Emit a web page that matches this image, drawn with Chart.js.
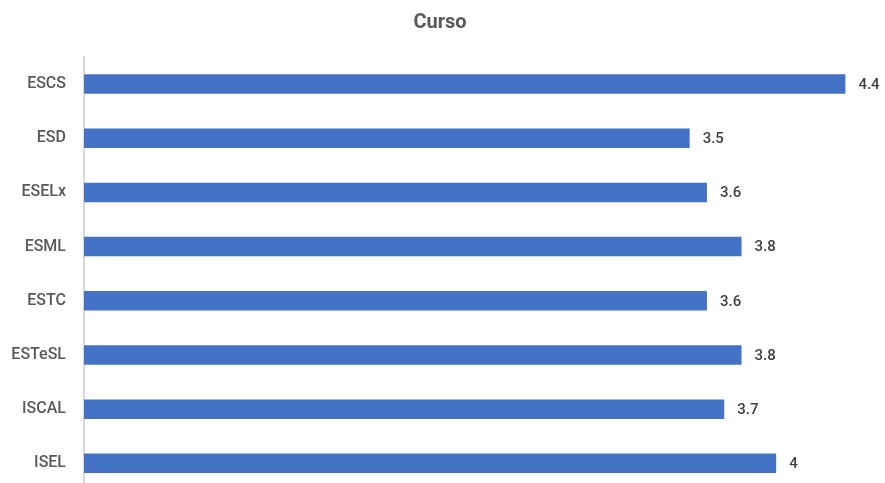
<!DOCTYPE html>
<html>
<head>
<meta charset="utf-8">
<script src="https://cdn.jsdelivr.net/npm/chart.js@4/dist/chart.umd.min.js"></script>
<style>
  html, body { margin: 0; padding: 0; background: #fff; overflow: hidden; }
  #wrap { width: 885px; height: 510px; }
</style>
</head>
<body>
<div id="wrap"><canvas id="chart" width="885" height="510"></canvas></div>
<script>
// data
var categories = ['ESCS', 'ESD', 'ESELx', 'ESML', 'ESTC', 'ESTeSL', 'ISCAL', 'ISEL'];
var values = [4.4, 3.5, 3.6, 3.8, 3.6, 3.8, 3.7, 4];
var chartTitle = 'Curso';

var FONT = 'Roboto, "DejaVu Sans Condensed", sans-serif';

// value labels at the end of each bar
var valueLabels = {
	id: 'valueLabels',
	afterDatasetsDraw: function(chart) {
		var ctx = chart.ctx;
		var meta = chart.getDatasetMeta(0);
		ctx.save();
		ctx.font = '500 15px ' + FONT;
		ctx.fillStyle = '#404040';
		ctx.textAlign = 'left';
		ctx.textBaseline = 'middle';
		meta.data.forEach(function(bar, i) {
			ctx.fillText(String(values[i]), bar.x + 13, bar.y + 1);
		});
		ctx.restore();
	}
};

var ctx = document.getElementById('chart').getContext('2d');
window.chart = new Chart(ctx, {
	type: 'bar',
	data: {
		labels: categories,
		datasets: [{
			data: values,
			backgroundColor: '#4472C4',
			borderWidth: 0,
			categoryPercentage: 1,
			barPercentage: 0.36
		}]
	},
	options: {
		indexAxis: 'y',
		responsive: false,
		animation: false,
		layout: { padding: { left: 0, right: 5, top: 0, bottom: 0 } },
		plugins: {
			legend: { display: false },
			tooltip: { enabled: false },
			title: {
				display: true,
				text: chartTitle,
				color: '#595959',
				font: { family: FONT, size: 20, weight: 'bold' },
				padding: { top: 11, bottom: 22 }
			}
		},
		scales: {
			x: {
				display: false,
				min: 0,
				max: 4.6
			},
			y: {
				grid: { display: false },
				border: { display: true, color: '#D9D9D9', width: 2 },
				ticks: {
					color: '#595959',
					font: { family: FONT, size: 16, weight: '500' },
					padding: 10
				},
				afterFit: function(scale) { scale.width = 84; }
			}
		}
	},
	plugins: [valueLabels]
});
</script>
</body>
</html>
